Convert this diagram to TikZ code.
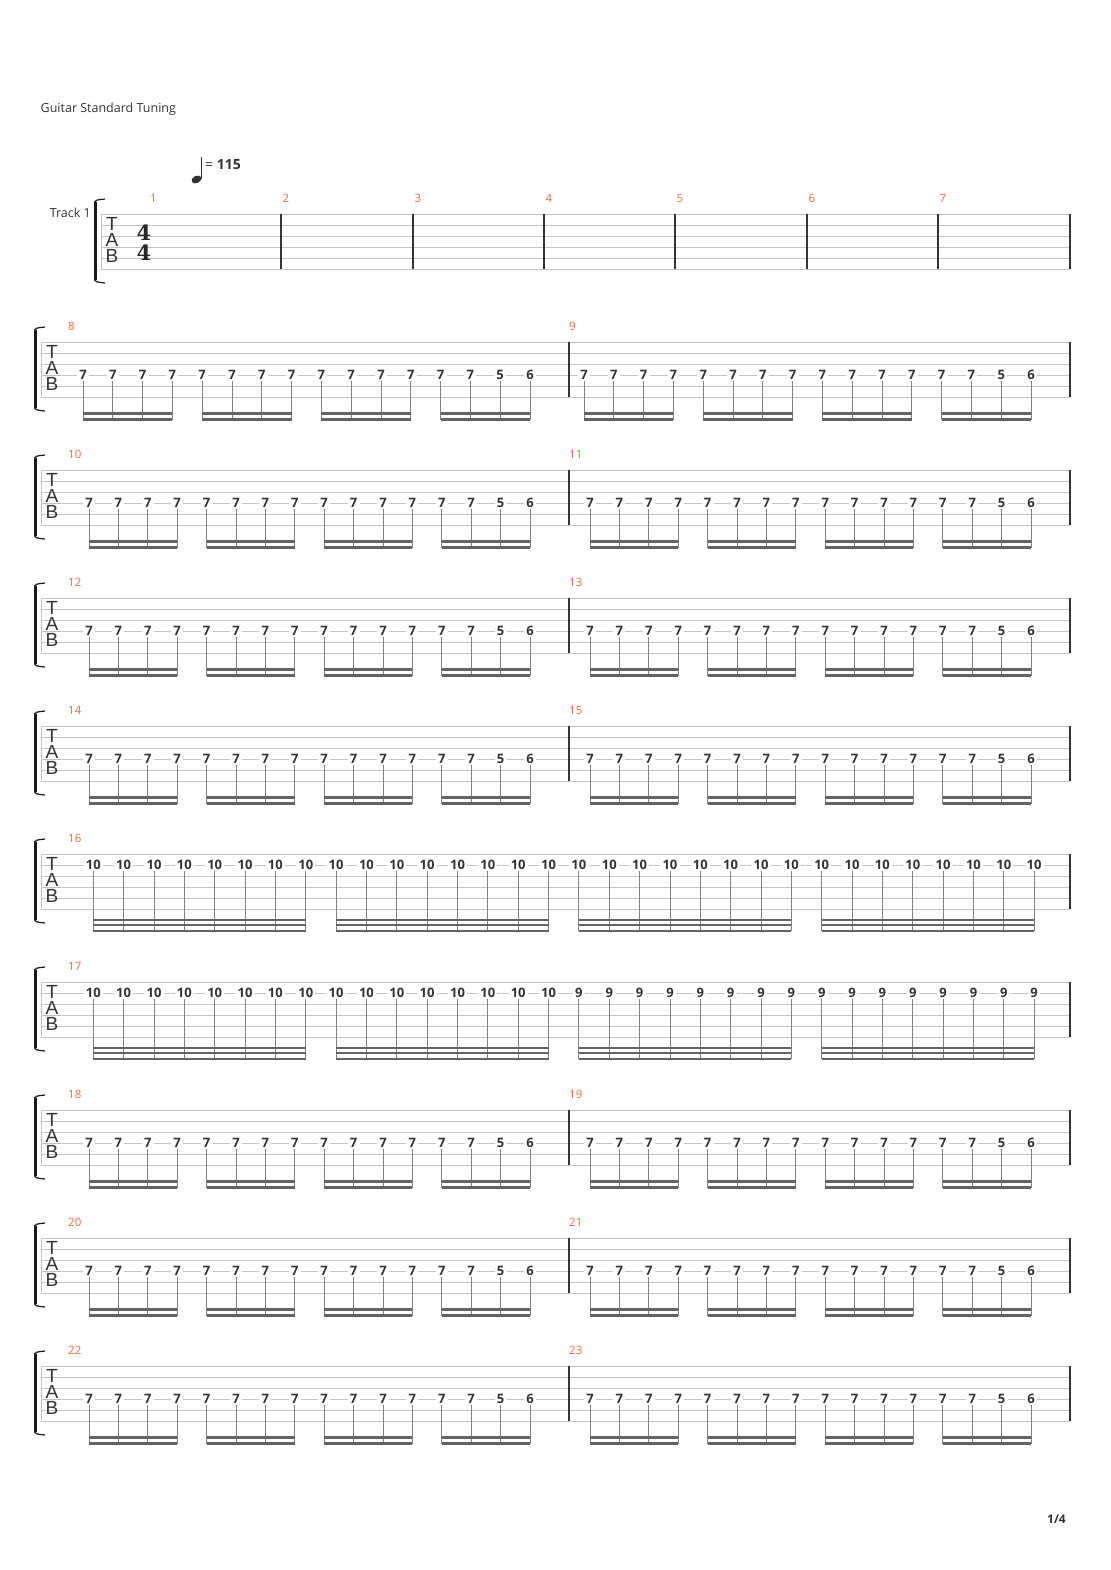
\documentclass[tikz,border=0pt]{standalone}
\usepackage{fontspec}
\newfontfamily\uifont{Open Sans}
\newfontfamily\cleffont{Liberation Sans}
\newfontfamily\meterfont{DejaVu Serif}
\usetikzlibrary{calc}
\definecolor{ink}{HTML}{333333}
\definecolor{barnocol}{HTML}{F26B3A}
\definecolor{stafflinecol}{HTML}{C4C4C4}
\definecolor{beamcol}{HTML}{636363}
\tikzset{
  tabline/.style={draw=stafflinecol,line width=0.9pt},
  barline/.style={draw=ink,line width=1.1pt},
  tabbrace/.style={draw=black!90,line width=2.6pt},
  stemline/.style={draw=black!50,line width=0.9pt},
  beamline/.style={draw=beamcol,line width=2.1pt},
  fret/.style={fill=white,inner xsep=2.2pt,inner ysep=1pt,text=ink,font=\uifont\bfseries\fontsize{13}{13}\selectfont},
  barno/.style={anchor=west,inner sep=0pt,text=barnocol,font=\uifont\fontsize{11.5}{12}\selectfont},
  clef/.style={inner sep=0pt,text=ink,font=\cleffont\fontsize{19}{19}\selectfont},
  meter/.style={inner sep=0pt,text=black!85,font=\meterfont\bfseries\fontsize{21}{21}\selectfont},
}
\def\tabstaff(#1,#2){%
  \foreach \s in {0,...,5}
    \draw[tabline] (#1,#2+11*\s) -- (1070,#2+11*\s);
  \draw[tabline] (#1,#2) -- (#1,#2+55);
  \draw[barline] (1070,#2) -- (1070,#2+55);
  \draw[tabbrace] (#1-5.5,#2-12) -- (#1-5.5,#2+66);
  \draw[tabbrace,line width=1.2pt] (#1-6.6,#2-12) .. controls (#1-5,#2-14) .. (#1+4,#2-15);
  \draw[tabbrace,line width=1.2pt] (#1-6.6,#2+66) .. controls (#1-5,#2+68) .. (#1+4,#2+69);
  \node[clef] (T#2) at (#1+11,#2+10) {T};
  \node[clef] (A#2) at (#1+11,#2+26) {A};
  \node[clef] (B#2) at (#1+11,#2+42) {B};
}
\def\sixteenbar#1(#2,#3)(#4){%
  \foreach \k in {0,...,15}{
    \pgfmathtruncatemacro\fr{\k==14 ? 5 : (\k==15 ? 6 : 7)}
    \node[fret] (#1-\k) at (#2+#4*\k,#3+33) {\fr};
    \coordinate (#1-\k-e) at (#2+#4*\k,#3+77.5);
    \draw[stemline] (#1-\k) -- (#1-\k-e);
  }
  \foreach \a/\b in {0/3,4/7,8/11,12/15}{
    \draw[beamline] (#1-\a-e) -- (#1-\b-e);
    \draw[beamline] ([yshift=6pt]#1-\a-e) -- ([yshift=6pt]#1-\b-e);
  }
}
\def\thirtytwobar#1(#2,#3)(#4)#5{%
  \foreach \k in {0,...,31}{
    \pgfmathtruncatemacro\fr{\k<16 ? 10 : #5}
    \node[fret] (#1-\k) at (#2+#4*\k,#3+11) {\fr};
    \coordinate (#1-\k-e) at (#2+#4*\k,#3+77);
    \draw[stemline] (#1-\k) -- (#1-\k-e);
  }
  \foreach \a/\b in {0/7,8/15,16/23,24/31}
    \foreach \h in {0,5.7,11.4}
      \draw[beamline] ([yshift=\h pt]#1-\a-e) -- ([yshift=\h pt]#1-\b-e);
}
\def\riffsystem(#1)#2#3(#4,#5,#6){%
  \tabstaff(41,#1)
  \node[barno] (m#2) at (68,#1-16) {#2};
  \node[barno] (m#3) at (569,#1-16) {#3};
  \draw[barline] (569,#1) -- (569,#1+55);
  \sixteenbar b#2(#4,#1)(#6)
  \sixteenbar b#3(#5,#1)(#6)
}

\begin{document}
\begin{tikzpicture}[x=1pt,y=-1pt]
  \useasboundingbox[fill=white] (0,0) rectangle (1110,1570);

  \node[anchor=base west,inner sep=0pt,text=ink,font=\uifont\fontsize{12.5}{14}\selectfont] (tuning) at (40.5,113) {Guitar Standard Tuning};

  \fill[ink,rotate around={25:(196.5,179.5)}] (196.5,179.5) ellipse (5.2 and 3.6);
  \draw[ink,line width=1.2pt] (201.2,179) -- (201.2,157);
  \node[anchor=west,inner sep=0pt,text=ink,font=\uifont\fontsize{14}{14}\selectfont] (tempo) at (205,165) {= \textbf{115}};

  \tabstaff(101,214)
  \node[anchor=east,inner sep=0pt,text=ink,font=\uifont\fontsize{12.5}{14}\selectfont] (track) at (91,213) {Track 1};
  \node[meter] (num) at (144,233) {4};
  \node[meter] (den) at (144,252.5) {4};
  \node[barno] (m1) at (150,198) {1};
  \foreach \x [count=\m from 2] in {281,413,544,675,807,938}{
    \draw[barline] (\x,214) -- (\x,269);
    \node[barno] (m\m) at (\x+1.5,198) {\m};
  }

  \riffsystem(342){8}{9}(83,584,29.8)
  \riffsystem(470){10}{11}(89,590,29.4)
  \riffsystem(598){12}{13}(89,590,29.4)
  \riffsystem(726){14}{15}(89,590,29.4)

  \tabstaff(41,854)
  \node[barno] (m16) at (68,838) {16};
  \thirtytwobar b16(93.3,854)(30.35){10}

  \tabstaff(41,982)
  \node[barno] (m17) at (68,966) {17};
  \thirtytwobar b17(93.3,982)(30.35){9}

  \riffsystem(1110){18}{19}(89,590,29.4)
  \riffsystem(1238){20}{21}(89,590,29.4)
  \riffsystem(1366){22}{23}(89,590,29.4)

  \node[text=ink,inner sep=0pt,font=\uifont\bfseries\fontsize{12}{12}\selectfont] (pageno) at (1056.5,1519) {1/4};
\end{tikzpicture}
\end{document}
